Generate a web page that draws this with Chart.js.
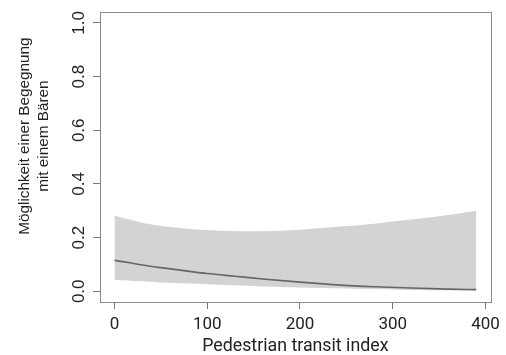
<!DOCTYPE html>
<html>
<head>
<meta charset="utf-8">
<script src="https://cdn.jsdelivr.net/npm/chart.js@4/dist/chart.umd.min.js"></script>
<style>
html,body{margin:0;padding:0;background:#fff;}
#wrap{width:506px;height:355px;}
</style>
</head>
<body>
<div id="wrap"><canvas id="c" width="506" height="355"></canvas></div>
<script>
// Data
const xValues   = [0, 15, 30, 50, 75, 100, 130, 160, 200, 240, 280, 320, 360, 390];
const fitValues = [0.115, 0.107, 0.098, 0.088, 0.077, 0.066, 0.056, 0.046, 0.034, 0.024, 0.017, 0.012, 0.008, 0.006];
const upperCI   = [0.281, 0.268, 0.255, 0.243, 0.234, 0.228, 0.224, 0.224, 0.229, 0.240, 0.252, 0.267, 0.284, 0.300];
const lowerCI   = [0.043, 0.040, 0.037, 0.033, 0.030, 0.026, 0.022, 0.018, 0.014, 0.011, 0.008, 0.005, 0.004, 0.003];
const xTicks = [0, 100, 200, 300, 400];
const yTicks = [0.0, 0.2, 0.4, 0.6, 0.8, 1.0];
const xTitle = 'Pedestrian transit index';
const yTitle = ['Möglichkeit einer Begegnung', 'mit einem Bären'];

const pts = arr => xValues.map((x, i) => ({x: x, y: arr[i]}));

const TITLE_SHIFT = 42;
const boxPlugin = {
  id: 'box',
  beforeDraw(chart) {
    // the y-axis title in the reference sits a little above the plot centre
    chart.scales.y.bottom -= TITLE_SHIFT;
  },
  beforeDatasetsDraw(chart) {
    chart.scales.y.bottom += TITLE_SHIFT;
  },
  afterDraw(chart) {
    const a = chart.chartArea, ctx = chart.ctx;
    ctx.save();
    ctx.strokeStyle = '#8a8a8a';
    ctx.lineWidth = 1;
    ctx.strokeRect(Math.round(a.left) + 0.5, Math.round(a.top) + 0.5, Math.round(a.right - a.left), Math.round(a.bottom - a.top));
    ctx.restore();
  }
};

new Chart(document.getElementById('c'), {
  type: 'line',
  data: {
    datasets: [
      { label: 'fit', data: pts(fitValues), borderColor: '#666666', borderWidth: 1.6, pointRadius: 0, fill: false, cubicInterpolationMode: 'monotone' },
      { label: 'upper', data: pts(upperCI), borderWidth: 0, borderColor: 'rgba(0,0,0,0)', backgroundColor: '#d2d3d3', pointRadius: 0, fill: '+1', cubicInterpolationMode: 'monotone' },
      { label: 'lower', data: pts(lowerCI), borderWidth: 0, borderColor: 'rgba(0,0,0,0)', pointRadius: 0, fill: false, cubicInterpolationMode: 'monotone' }
    ]
  },
  options: {
    responsive: false,
    animation: false,
    devicePixelRatio: 1,
    layout: { padding: { top: 9, right: 15, left: 0, bottom: 0 } },
    plugins: { legend: { display: false }, tooltip: { enabled: false } },
    scales: {
      x: {
        type: 'linear',
        min: -15.6, max: 405.6,
        afterBuildTicks: s => { s.ticks = xTicks.map(v => ({value: v})); },
        afterFit: s => { s.height = 53; },
        border: { display: false },
        grid: { drawOnChartArea: false, drawTicks: true, tickLength: 7, color: '#7a7a7a' },
        ticks: { color: '#222', padding: 6, maxRotation: 0, font: { family: 'Roboto', size: 17 } },
        title: { display: true, text: xTitle, color: '#222', padding: { top: 0, bottom: -2 }, font: { family: 'Roboto', size: 17.8 } }
      },
      y: {
        type: 'linear',
        min: -0.04, max: 1.04,
        afterBuildTicks: s => { s.ticks = yTicks.map(v => ({value: v})); },
        afterFit: s => { s.width = 100; },
        border: { display: false },
        grid: { drawOnChartArea: false, drawTicks: true, tickLength: 7, color: '#7a7a7a' },
        ticks: { color: '#222', padding: 2, minRotation: 90, maxRotation: 90, crossAlign: 'center',
                 font: { family: 'Liberation Sans', size: 17 }, callback: v => Number(v).toFixed(1) },
        title: { display: true, text: yTitle, color: '#222', padding: { top: 15, bottom: 0 },
                 font: { family: 'Liberation Sans', size: 15.3, lineHeight: 1.27 } }
      }
    }
  },
  plugins: [boxPlugin]
});
</script>
</body>
</html>
